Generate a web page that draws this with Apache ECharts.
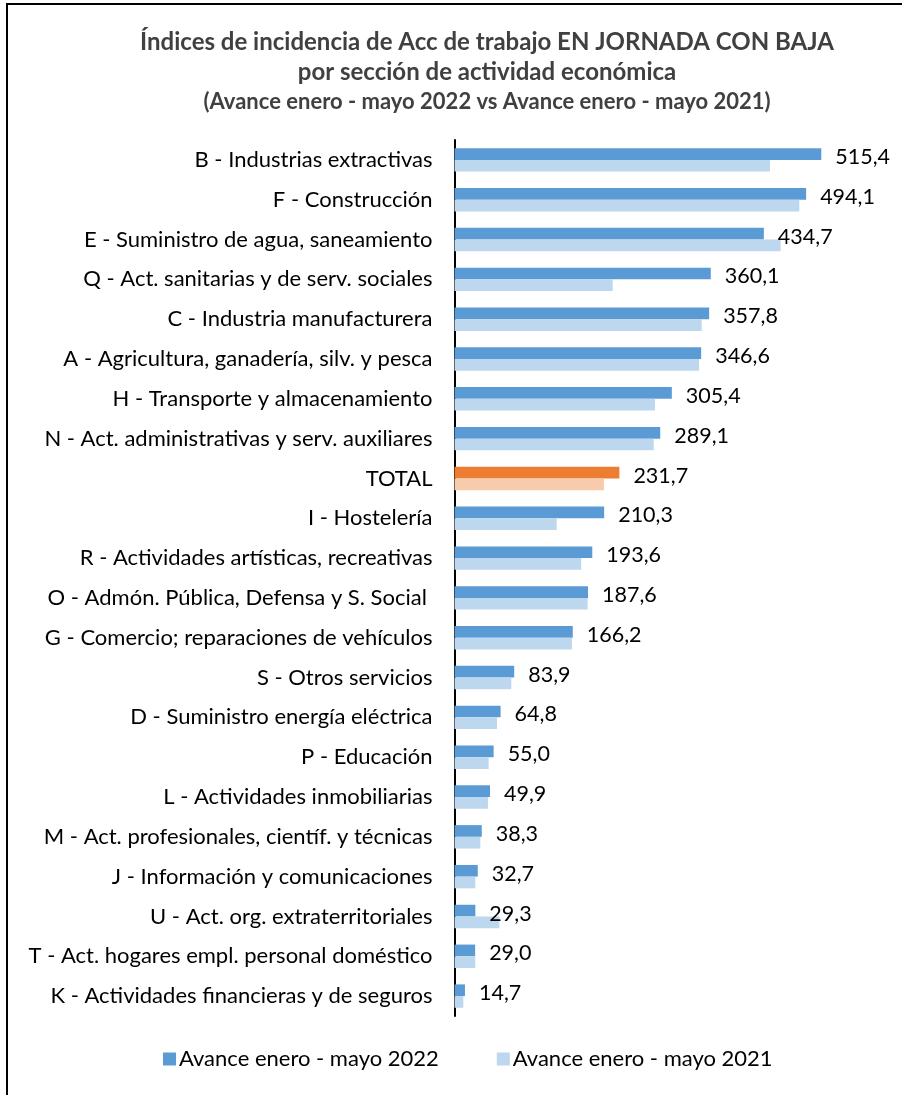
<!DOCTYPE html>
<html>
<head>
<meta charset="utf-8">
<script src="https://cdn.jsdelivr.net/npm/echarts@6/dist/echarts.min.js"></script>
<style>
  html, body { margin: 0; padding: 0; background: #fff; }
  #chart { width: 902px; height: 1095px; }
</style>
</head>
<body>
<div id="chart"></div>
<script>
// categories top to bottom
const categories = [
  'B - Industrias extractivas',
  'F - Construcción',
  'E - Suministro de agua, saneamiento',
  'Q - Act. sanitarias y de serv. sociales',
  'C - Industria manufacturera',
  'A - Agricultura, ganadería, silv. y pesca',
  'H - Transporte y almacenamiento',
  'N - Act. administrativas y serv. auxiliares',
  'TOTAL',
  'I - Hostelería',
  'R - Actividades artísticas, recreativas',
  'O - Admón. Pública, Defensa y S. Social ',
  'G - Comercio; reparaciones de vehículos',
  'S - Otros servicios',
  'D - Suministro energía eléctrica',
  'P - Educación',
  'L - Actividades inmobiliarias',
  'M - Act. profesionales, científ. y técnicas',
  'J - Información y comunicaciones',
  'U - Act. org. extraterritoriales',
  'T - Act. hogares empl. personal doméstico',
  'K - Actividades financieras y de seguros'
]
const values2022 = [515.4, 494.1, 434.7, 360.1, 357.8, 346.6, 305.4, 289.1, 231.7, 210.3,
  193.6, 187.6, 166.2, 83.9, 64.8, 55.0, 49.9, 38.3, 32.7, 29.3, 29.0, 14.7]
const values2021 = [443.3, 484.5, 458.3, 222.3, 347.3, 343.5, 281.7, 279.9, 210.0, 143.6,
  178.0, 187.1, 165.0, 79.8, 59.7, 48.0, 47.0, 36.3, 29.3, 63.0, 29.2, 12.4]
const seriesNames = ['Avance enero - mayo 2022', 'Avance enero - mayo 2021']

const FONT = 'Lato'
const isTotal = (i) => categories[i] === 'TOTAL'

const chart = echarts.init(document.getElementById('chart'))

const option = {
  backgroundColor: '#fff',
  animation: false,
  textStyle: { fontFamily: FONT },
  title: {
    left: 482,
    textAlign: 'center',
    top: 22,
    text: '{a|Índices de incidencia de Acc de trabajo EN JORNADA CON BAJA}\n{a|por sección de actividad económica}\n{b|(Avance enero - mayo 2022 vs Avance enero - mayo 2021)}',
    textStyle: {
      rich: {
        a: { fontFamily: FONT, fontSize: 24, fontWeight: 'bold', color: '#404040', lineHeight: 30, align: 'center' },
        b: { fontFamily: FONT, fontSize: 22, fontWeight: 'bold', color: '#404040', lineHeight: 30, align: 'center' }
      }
    }
  },
  legend: {
    bottom: 20,
    left: 158,
    icon: 'rect',
    itemWidth: 13,
    itemHeight: 13,
    itemGap: 58,
    textStyle: { fontFamily: FONT, fontSize: 22, color: '#000', padding: [0, 0, 0, -2] },
    data: seriesNames
  },
  grid: { left: 454.5, right: 20.5, top: 140, bottom: 79 },
  xAxis: {
    type: 'value',
    min: 0,
    max: 600,
    show: false
  },
  yAxis: {
    type: 'category',
    inverse: true,
    data: categories,
    axisLine: { show: true, lineStyle: { color: '#000', width: 2 } },
    axisTick: { show: false },
    axisLabel: { fontFamily: FONT, fontSize: 22, color: '#000', margin: 22, padding: [6, 0, 0, 0] }
  },
  series: [
    {
      name: seriesNames[0],
      type: 'bar',
      barWidth: 11.7,
      barGap: '0%',
      itemStyle: { color: '#5B9BD5' },
      label: {
        show: true,
        position: 'right',
        distance: 14,
        offset: [0, 3],
        fontFamily: FONT,
        fontSize: 21.5,
        color: '#000',
        formatter: (p) => p.value.toFixed(1).replace('.', ',')
      },
      data: values2022.map((v, i) => isTotal(i) ? { value: v, itemStyle: { color: '#ED7D31' } } : v)
    },
    {
      name: seriesNames[1],
      type: 'bar',
      barWidth: 11.7,
      barGap: '0%',
      itemStyle: { color: '#BDD7EE' },
      data: values2021.map((v, i) => isTotal(i) ? { value: v, itemStyle: { color: '#F8CBAD' } } : v)
    }
  ],
  graphic: [
    {
      type: 'rect',
      silent: true,
      shape: { x: 7, y: 4, width: 1000, height: 1200 },
      style: { fill: null, stroke: '#000', lineWidth: 2 }
    }
  ]
}

chart.setOption(option)
</script>
</body>
</html>
